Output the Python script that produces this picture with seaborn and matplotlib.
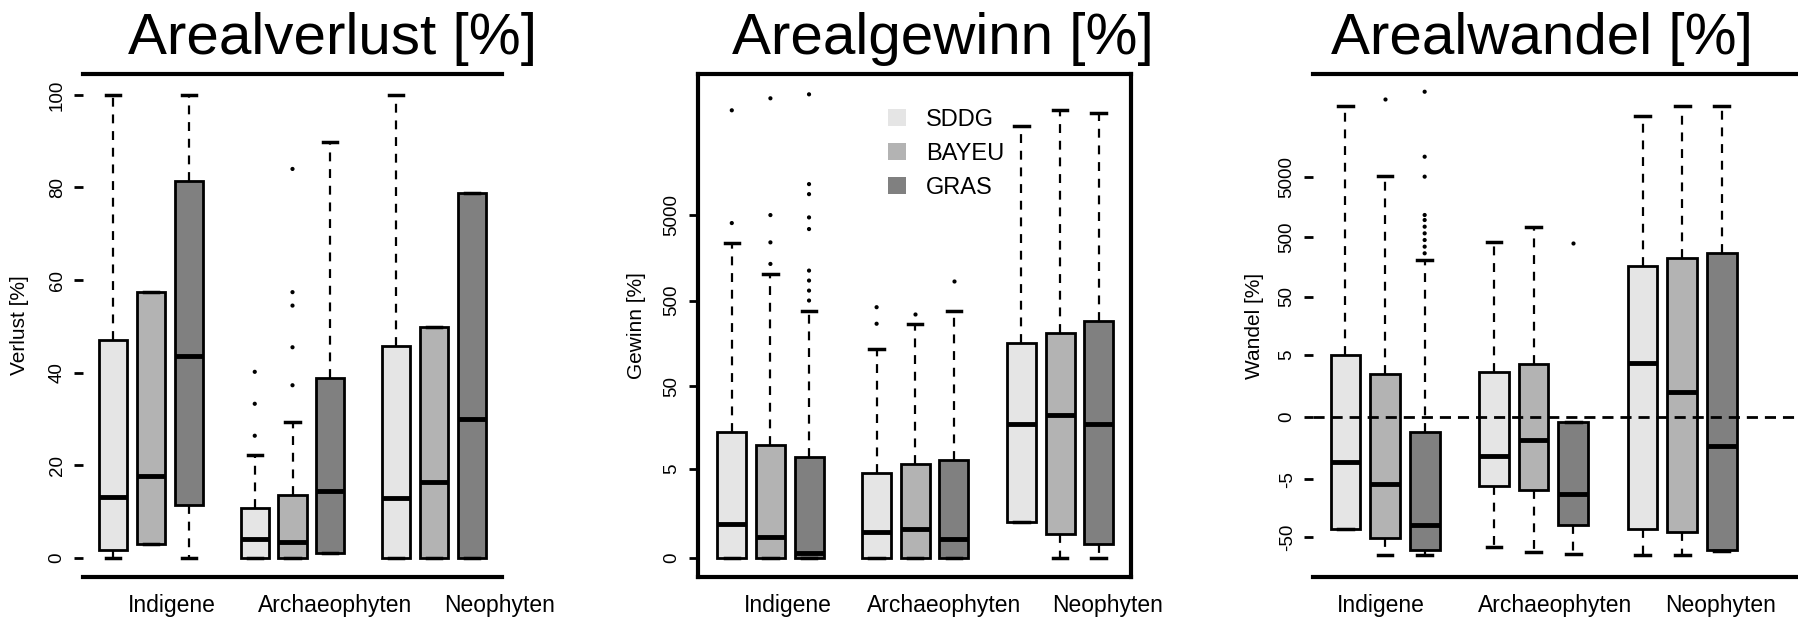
import numpy as np
import pandas as pd
import matplotlib
matplotlib.use("Agg")
import matplotlib.pyplot as plt
import seaborn as sns
from matplotlib.patches import Patch
from itertools import product

plt.rcParams["font.family"] = ["Liberation Sans", "DejaVu Sans"]
plt.rcParams["axes.unicode_minus"] = False

groups = ["Indigene", "Archaeophyten", "Neophyten"]
sources = ["SDDG", "BAYEU", "GRAS"]
colors = ["#e5e5e5", "#b3b3b3", "#808080"]

# Five-number summaries, listed group by group (SDDG, BAYEU, GRAS in each group)
verlust_lo = [0.0, 3.0, 0.0, 0.0, 0.0, 1.1, 0.0, 0.0, 0.0]
verlust_q1 = [1.7, 3.0, 11.4, 0.0, 0.0, 1.1, 0.0, 0.0, 0.0]
verlust_med = [13.2, 17.7, 43.7, 4.1, 3.4, 14.4, 12.9, 16.5, 30.0]
verlust_q3 = [47.1, 57.5, 81.3, 10.7, 13.6, 38.9, 45.8, 49.9, 78.8]
verlust_hi = [100.0, 57.5, 100.0, 22.3, 29.4, 89.9, 100.0, 49.9, 78.8]
verlust_out_group = ["Archaeophyten"] * 8
verlust_out_source = ["SDDG"] * 3 + ["BAYEU"] * 5
verlust_out_value = [26.4, 33.3, 40.2, 37.3, 45.5, 54.5, 57.4, 84.0]

gewinn_lo = [0.0, 0.0, 0.0, 0.0, 0.0, 0.0, 0.82, 0.0, 0.0]
gewinn_q1 = [0.0, 0.0, 0.0, 0.0, 0.0, 0.0, 0.82, 0.45, 0.23]
gewinn_med = [0.76, 0.385, 0.077, 0.51, 0.58, 0.33, 17.9, 22.9, 17.9]
gewinn_q3 = [14.2, 10.0, 7.03, 4.46, 5.8, 6.4, 159.0, 208.0, 292.0]
gewinn_hi = [2317.0, 1021.0, 382.0, 137.0, 268.0, 382.0, 54200.0, 82400.0, 77400.0]
gewinn_out_group = ["Indigene"] * 15 + ["Archaeophyten"] * 4
gewinn_out_source = (["SDDG"] * 2 + ["BAYEU"] * 4 + ["GRAS"] * 9
                     + ["SDDG"] * 2 + ["BAYEU"] + ["GRAS"])
gewinn_out_value = [4000, 82400,
                    1336, 2382, 4956, 113700,
                    500, 653, 855, 1117, 3405, 4655, 8690, 11375, 126500,
                    268, 418, 350, 855]

wandel_lo = [-36.7, -100.0, -100.0, -74.0, -87.0, -95.0, -100.0, -100.0, -84.0]
wandel_q1 = [-36.7, -52.0, -82.0, -6.56, -7.7, -31.05, -36.7, -40.2, -82.0]
wandel_med = [-2.27, -6.1, -31.05, -1.73, -0.71, -9.2, 3.42, 0.79, -1.02]
wandel_q3 = [4.9, 2.1, -0.38, 2.35, 3.32, -0.11, 166.0, 220.0, 267.0]
wandel_hi = [77200.0, 5200.0, 206.0, 417.5, 724.0, -0.11, 52000.0, 77200.0, 77200.0]
wandel_out_group = ["Indigene"] * 11 + ["Archaeophyten"]
wandel_out_source = ["BAYEU"] + ["GRAS"] * 10 + ["GRAS"]
wandel_out_value = [98400, 267, 345, 445, 575, 743, 959, 1163, 5070, 10900, 132000, 391]

verlust_ticks = [0, 20, 40, 60, 80, 100]
gewinn_ticks = [0, 5, 50, 500, 5000]
wandel_ticks = [-50, -5, 0, 5, 50, 500, 5000]


def fwd(v):
    v = np.asarray(v, dtype=float)
    return np.sign(v) * np.log10(1 + 2 * np.abs(v))


def inv(t):
    t = np.asarray(t, dtype=float)
    return np.sign(t) * (10 ** np.abs(t) - 1) / 2


def box_frame(lo, q1, med, q3, hi):
    rows = []
    for i, (g, s) in enumerate(product(groups, sources)):
        for v in (lo[i], q1[i], med[i], q3[i], hi[i]):
            rows.append((g, s, v))
    return pd.DataFrame(rows, columns=["Gruppe", "Quelle", "Wert"])


W, H = 1798, 627
fig = plt.figure(figsize=(W / 100, H / 100), dpi=100)


def panel(px_left, px_right, xlim, label_pos, frame, summary, outliers, ylabel,
          ylabel_px, ticks, scale=None, ylim=None):
    width_px = px_right - px_left
    ax = fig.add_axes([px_left / W, (H - 577) / H, width_px / W, 503 / H])
    df = box_frame(*summary)
    sns.boxplot(data=df, x="Gruppe", y="Wert", hue="Quelle", order=groups,
                hue_order=sources, palette=colors, width=0.8, gap=0.25,
                whis=(0, 100), showfliers=False, linecolor="black", linewidth=2,
                legend=False, ax=ax,
                boxprops=dict(edgecolor="black", linewidth=2),
                medianprops=dict(color="black", linewidth=3.5),
                whiskerprops=dict(color="black", linewidth=1.6,
                                  linestyle=(0, (4, 3.5))),
                capprops=dict(color="black", linewidth=2.5))
    og, os_, ov = outliers
    if len(ov):
        sns.stripplot(x=og, y=ov, hue=os_, order=groups, hue_order=sources,
                      dodge=True, jitter=False, palette=["black"] * 3,
                      size=3, linewidth=0, legend=False, ax=ax)
    if scale is not None:
        ax.set_yscale("function", functions=scale)
    if ylim is not None:
        ax.set_ylim(*ylim)
    ax.set_xlim(*xlim)
    ax.set_xticks(label_pos)
    ax.set_xticklabels(groups)
    ax.set_yticks(ticks)
    ax.set_yticklabels([str(t) for t in ticks])
    ax.set_xlabel("")
    ax.set_ylabel(ylabel, fontsize=15, va="center")
    ax.yaxis.set_label_coords((ylabel_px - px_left) / width_px, 0.5)
    ax.tick_params(axis="x", length=0, pad=12, labelsize=16.5)
    ax.tick_params(axis="y", length=6.5, width=2, pad=6, labelsize=13.5,
                   labelrotation=90)
    for lbl in ax.get_yticklabels():
        lbl.set_va("center")
    for side in ("top", "bottom", "left", "right"):
        ax.spines[side].set_linewidth(3)
        ax.spines[side].set_visible(frame or side in ("top", "bottom"))
    ax.set_facecolor("white")
    return ax


ax1 = panel(83, 502, (-0.48, 2.48), [0.148, 1.30, 2.46], False,
            (verlust_lo, verlust_q1, verlust_med, verlust_q3, verlust_hi),
            (verlust_out_group, verlust_out_source, verlust_out_value),
            "Verlust [%]", 20, verlust_ticks, ylim=(-4.1, 104.5))

ax2 = panel(698, 1131, (-0.5, 2.49), [0.117, 1.20, 2.33], True,
            (gewinn_lo, gewinn_q1, gewinn_med, gewinn_q3, gewinn_hi),
            (gewinn_out_group, gewinn_out_source, gewinn_out_value),
            "Gewinn [%]", 637, gewinn_ticks, scale=(fwd, inv),
            ylim=(inv(-0.221), inv(5.64)))

ax3 = panel(1313, 1798, (-0.485, 2.78), [-0.03, 1.145, 2.26], False,
            (wandel_lo, wandel_q1, wandel_med, wandel_q3, wandel_hi),
            (wandel_out_group, wandel_out_source, wandel_out_value),
            "Wandel [%]", 1254, wandel_ticks, scale=(fwd, inv),
            ylim=(inv(-2.667), inv(5.717)))
ax3.axhline(0, color="black", linewidth=2, linestyle=(0, (4, 2.5)), zorder=5)

handles = [Patch(facecolor=c, edgecolor="none") for c in colors]
ax2.legend(handles, sources, loc="upper left",
           bbox_to_anchor=((888 - 698) / 433, (577 - 108) / 504),
           frameon=False, fontsize=17, handlelength=0.75, handleheight=0.75,
           handletextpad=0.85, labelspacing=0.5, borderpad=0, borderaxespad=0)

titles = ["Arealverlust [%]", "Arealgewinn [%]", "Arealwandel [%]"]
title_x = [332, 943, 1542]
for t, x in zip(titles, title_x):
    fig.text(x / W, (H - 54) / H, t, ha="center", va="baseline", fontsize=42)

fig.savefig("out.png", dpi=100, facecolor="white")
